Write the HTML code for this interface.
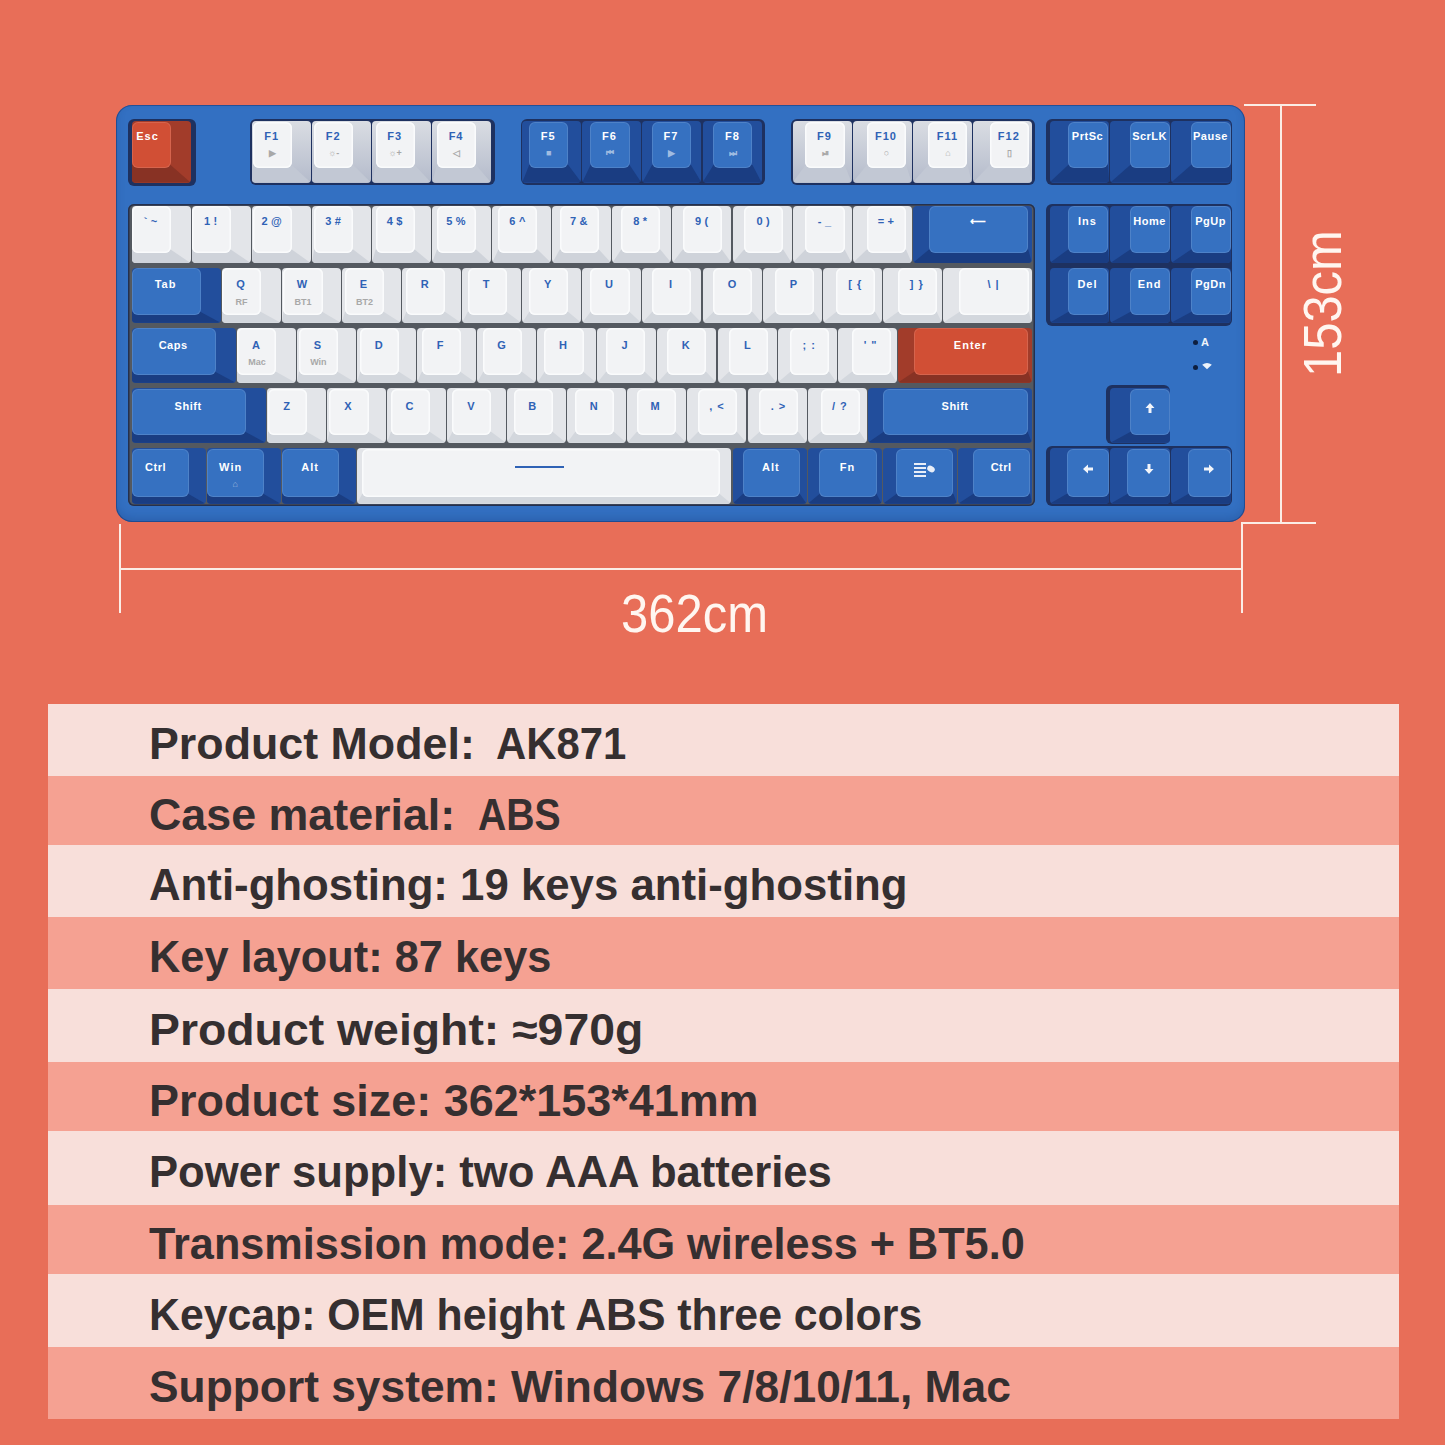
<!DOCTYPE html>
<html><head><meta charset="utf-8">
<style>
html,body{margin:0;padding:0}
body{width:1445px;height:1445px;background:#E86E58;position:relative;overflow:hidden;font-family:"Liberation Sans",sans-serif}
div,i,b,span{position:absolute;display:block;font-style:normal}
.case{left:116px;top:104.5px;width:1129px;height:417px;background:#3370C2;border-radius:16px;box-shadow:inset 0 0 0 1px rgba(20,50,110,.5),inset 0 -5px 8px rgba(20,50,110,.22)}
.well{background:#1E3160;border-radius:6px}
.k .ar{position:absolute}
.k{border-radius:4px;overflow:hidden}
.k .s{left:0;top:0;right:0;bottom:0}
.k .f{border-radius:6px;box-shadow:inset 0 0 0 1px rgba(255,255,255,.12)}
.kw .f{box-shadow:inset 0 0 0 1.5px #FAFBFC}
.k .l{left:0;right:0;top:9px;text-align:center;font-weight:bold;font-size:11px;line-height:13px;white-space:nowrap;letter-spacing:1px;text-indent:1px;right:auto;width:100%}
.k .u{left:0;right:0;top:29px;text-align:center;font-weight:bold;font-size:9px;line-height:10px;color:#A8A8A8}
.k .uw{color:rgba(255,255,255,.55)}
.k .sp{left:153px;top:17px;width:49px;height:2.5px;background:#2F62B5}
.k .mn{left:18px;width:22px;height:14px}
.k .mn i{position:absolute;left:0;width:12px;height:2px;background:#E8EEF8}
.k .mn i:nth-child(1){top:0}.k .mn i:nth-child(2){top:4px}.k .mn i:nth-child(3){top:8px}.k .mn i:nth-child(4){top:12px}
.k .mn i.o{left:13px;top:3px;width:8px;height:6px;border-radius:50%;transform:rotate(30deg)}
.led{width:5px;height:5px;border-radius:50%;background:#0E1E3E}
.ledt{color:#F0F4FA;font-weight:bold;font-size:11px;line-height:11px}
.tr{left:48px;width:1351px}
.tr span{font-weight:bold;font-size:44.5px;line-height:60px;color:#352F30;white-space:nowrap;transform-origin:0 0}
.dl{background:#FBEDE6}
.dim{color:#FFF6F0;font-size:53.5px;line-height:53.5px;white-space:nowrap}
</style></head><body>
<div class="case"></div>
<div class="well" style="left:128px;top:119px;width:68px;height:67px"></div>
<div class="well" style="left:250px;top:119px;width:245px;height:66px"></div>
<div class="well" style="left:521px;top:119px;width:244px;height:66px"></div>
<div class="well" style="left:791px;top:119px;width:244px;height:66px"></div>
<div class="well" style="left:1046px;top:119px;width:186px;height:66px"></div>
<div class="well" style="left:128px;top:204px;width:907px;height:302px;background:#545960;box-shadow:inset 0 0 0 1.5px #24304E"></div>
<div class="well" style="left:1046px;top:204px;width:186px;height:122px"></div>
<div class="well" style="left:1106px;top:385px;width:64px;height:59px"></div>
<div class="well" style="left:1046px;top:446px;width:186px;height:60px"></div>
<div class="k ko" style="left:131.5px;top:121px;width:59.1px;height:61.5px;background:#A23C2A"><i class="s" style="background:#883224;clip-path:polygon(0px 44px,39.1px 44px,59.1px 61.5px,0 61.5px)"></i><i class="f" style="left:0px;top:0.5px;width:39.1px;height:46.5px;background:#D14F35;color:#FFFFFF"><b class="l" style="top:8px;left:-4px">Esc</b></i></div>
<div class="k kw" style="left:251.7px;top:121px;width:59.1px;height:61.5px;background:linear-gradient(#DADDE3,#B4BBCB)"><i class="s" style="background:#C2C8D4;clip-path:polygon(1px 44px,40.1px 44px,59.1px 61.5px,0 61.5px)"></i><i class="f" style="left:1px;top:0.5px;width:39.1px;height:46.5px;background:#F2F3F5;color:#2F62B5"><b class="l" style="top:8px;left:-1px">F1</b><b class="u" style="top:26px">▶</b></i></div>
<div class="k kw" style="left:311.8px;top:121px;width:59.1px;height:61.5px;background:linear-gradient(#DADDE3,#B4BBCB)"><i class="s" style="background:#C2C8D4;clip-path:polygon(2.3px 44px,41.4px 44px,59.1px 61.5px,0 61.5px)"></i><i class="f" style="left:2.3px;top:0.5px;width:39.1px;height:46.5px;background:#F2F3F5;color:#2F62B5"><b class="l" style="top:8px;left:-1px">F2</b><b class="u" style="top:26px">☼-</b></i></div>
<div class="k kw" style="left:371.9px;top:121px;width:59.1px;height:61.5px;background:linear-gradient(#DADDE3,#B4BBCB)"><i class="s" style="background:#C2C8D4;clip-path:polygon(3.7px 44px,42.8px 44px,59.1px 61.5px,0 61.5px)"></i><i class="f" style="left:3.7px;top:0.5px;width:39.1px;height:46.5px;background:#F2F3F5;color:#2F62B5"><b class="l" style="top:8px;left:-1px">F3</b><b class="u" style="top:26px">☼+</b></i></div>
<div class="k kw" style="left:432px;top:121px;width:59.1px;height:61.5px;background:linear-gradient(#DADDE3,#B4BBCB)"><i class="s" style="background:#C2C8D4;clip-path:polygon(5px 44px,44.1px 44px,59.1px 61.5px,0 61.5px)"></i><i class="f" style="left:5px;top:0.5px;width:39.1px;height:46.5px;background:#F2F3F5;color:#2F62B5"><b class="l" style="top:8px;left:-1px">F4</b><b class="u" style="top:26px">◁</b></i></div>
<div class="k kb" style="left:522.2px;top:121px;width:59.1px;height:61.5px;background:#224E9C"><i class="s" style="background:#1A3D82;clip-path:polygon(7px 44px,46.1px 44px,59.1px 61.5px,0 61.5px)"></i><i class="f" style="left:7px;top:0.5px;width:39.1px;height:46.5px;background:#3671C1;color:#FFFFFF"><b class="l" style="top:8px;left:-1px">F5</b><b class="u uw" style="top:26px">■</b></i></div>
<div class="k kb" style="left:582.2px;top:121px;width:59.1px;height:61.5px;background:#224E9C"><i class="s" style="background:#1A3D82;clip-path:polygon(8.3px 44px,47.4px 44px,59.1px 61.5px,0 61.5px)"></i><i class="f" style="left:8.3px;top:0.5px;width:39.1px;height:46.5px;background:#3671C1;color:#FFFFFF"><b class="l" style="top:8px;left:-1px">F6</b><b class="u uw" style="top:26px">⏮</b></i></div>
<div class="k kb" style="left:642.4px;top:121px;width:59.1px;height:61.5px;background:#224E9C"><i class="s" style="background:#1A3D82;clip-path:polygon(9.6px 44px,48.7px 44px,59.1px 61.5px,0 61.5px)"></i><i class="f" style="left:9.6px;top:0.5px;width:39.1px;height:46.5px;background:#3671C1;color:#FFFFFF"><b class="l" style="top:8px;left:-1px">F7</b><b class="u uw" style="top:26px">▶</b></i></div>
<div class="k kb" style="left:702.5px;top:121px;width:59.1px;height:61.5px;background:#224E9C"><i class="s" style="background:#1A3D82;clip-path:polygon(10.9px 44px,50px 44px,59.1px 61.5px,0 61.5px)"></i><i class="f" style="left:10.9px;top:0.5px;width:39.1px;height:46.5px;background:#3671C1;color:#FFFFFF"><b class="l" style="top:8px;left:-1px">F8</b><b class="u uw" style="top:26px">⏭</b></i></div>
<div class="k kw" style="left:792.6px;top:121px;width:59.1px;height:61.5px;background:linear-gradient(#DADDE3,#B4BBCB)"><i class="s" style="background:#C2C8D4;clip-path:polygon(12.9px 44px,52px 44px,59.1px 61.5px,0 61.5px)"></i><i class="f" style="left:12.9px;top:0.5px;width:39.1px;height:46.5px;background:#F2F3F5;color:#2F62B5"><b class="l" style="top:8px;left:-1px">F9</b><b class="u" style="top:26px">⏯</b></i></div>
<div class="k kw" style="left:852.7px;top:121px;width:59.1px;height:61.5px;background:linear-gradient(#DADDE3,#B4BBCB)"><i class="s" style="background:#C2C8D4;clip-path:polygon(14.2px 44px,53.3px 44px,59.1px 61.5px,0 61.5px)"></i><i class="f" style="left:14.2px;top:0.5px;width:39.1px;height:46.5px;background:#F2F3F5;color:#2F62B5"><b class="l" style="top:8px;left:-1px">F10</b><b class="u" style="top:26px">○</b></i></div>
<div class="k kw" style="left:912.8px;top:121px;width:59.1px;height:61.5px;background:linear-gradient(#DADDE3,#B4BBCB)"><i class="s" style="background:#C2C8D4;clip-path:polygon(15.6px 44px,54.7px 44px,59.1px 61.5px,0 61.5px)"></i><i class="f" style="left:15.6px;top:0.5px;width:39.1px;height:46.5px;background:#F2F3F5;color:#2F62B5"><b class="l" style="top:8px;left:-1px">F11</b><b class="u" style="top:26px">⌂</b></i></div>
<div class="k kw" style="left:972.9px;top:121px;width:59.1px;height:61.5px;background:linear-gradient(#DADDE3,#B4BBCB)"><i class="s" style="background:#C2C8D4;clip-path:polygon(16.9px 44px,56px 44px,59.1px 61.5px,0 61.5px)"></i><i class="f" style="left:16.9px;top:0.5px;width:39.1px;height:46.5px;background:#F2F3F5;color:#2F62B5"><b class="l" style="top:8px;left:-1px">F12</b><b class="u" style="top:26px">▯</b></i></div>
<div class="k kb" style="left:1049.5px;top:121px;width:59.8px;height:61.5px;background:#224E9C"><i class="s" style="background:#1A3D82;clip-path:polygon(18.6px 44px,58.4px 44px,59.8px 61.5px,0 61.5px)"></i><i class="f" style="left:18.6px;top:0.5px;width:39.8px;height:46.5px;background:#3671C1;color:#FFFFFF"><b class="l" style="top:8px;left:-1px;letter-spacing:.5px">PrtSc</b></i></div>
<div class="k kb" style="left:1110.3px;top:121px;width:59.8px;height:61.5px;background:#224E9C"><i class="s" style="background:#1A3D82;clip-path:polygon(19.9px 44px,59.7px 44px,59.8px 61.5px,0 61.5px)"></i><i class="f" style="left:19.9px;top:0.5px;width:39.8px;height:46.5px;background:#3671C1;color:#FFFFFF"><b class="l" style="top:8px;left:-1px;letter-spacing:.5px">ScrLK</b></i></div>
<div class="k kb" style="left:1171.1px;top:121px;width:59.8px;height:61.5px;background:#224E9C"><i class="s" style="background:#1A3D82;clip-path:polygon(20px 44px,59.8px 44px,59.8px 61.5px,0 61.5px)"></i><i class="f" style="left:20px;top:0.5px;width:39.8px;height:46.5px;background:#3671C1;color:#FFFFFF"><b class="l" style="top:8px;left:-1px;letter-spacing:.5px">Pause</b></i></div>
<div class="k kw" style="left:131.5px;top:206px;width:59.1px;height:57px;background:#E3E5E9"><i class="s" style="background:#CFD3DA;clip-path:polygon(0px 43.5px,39.1px 43.5px,59.1px 57px,0 57px)"></i><i class="f" style="left:0px;top:0px;width:39.1px;height:46.5px;background:#F2F3F5;color:#2F62B5"><b class="l" style="top:8.5px;left:-1px;letter-spacing:.2px">` ~</b></i></div>
<div class="k kw" style="left:191.6px;top:206px;width:59.1px;height:57px;background:#E3E5E9"><i class="s" style="background:#CFD3DA;clip-path:polygon(0px 43.5px,39.1px 43.5px,59.1px 57px,0 57px)"></i><i class="f" style="left:0px;top:0px;width:39.1px;height:46.5px;background:#F2F3F5;color:#2F62B5"><b class="l" style="top:8.5px;left:-1px;letter-spacing:.2px">1 !</b></i></div>
<div class="k kw" style="left:251.7px;top:206px;width:59.1px;height:57px;background:#E3E5E9"><i class="s" style="background:#CFD3DA;clip-path:polygon(1px 43.5px,40.1px 43.5px,59.1px 57px,0 57px)"></i><i class="f" style="left:1px;top:0px;width:39.1px;height:46.5px;background:#F2F3F5;color:#2F62B5"><b class="l" style="top:8.5px;left:-1px;letter-spacing:.2px">2 @</b></i></div>
<div class="k kw" style="left:311.8px;top:206px;width:59.1px;height:57px;background:#E3E5E9"><i class="s" style="background:#CFD3DA;clip-path:polygon(2.3px 43.5px,41.4px 43.5px,59.1px 57px,0 57px)"></i><i class="f" style="left:2.3px;top:0px;width:39.1px;height:46.5px;background:#F2F3F5;color:#2F62B5"><b class="l" style="top:8.5px;left:-1px;letter-spacing:.2px">3 #</b></i></div>
<div class="k kw" style="left:371.9px;top:206px;width:59.1px;height:57px;background:#E3E5E9"><i class="s" style="background:#CFD3DA;clip-path:polygon(3.7px 43.5px,42.8px 43.5px,59.1px 57px,0 57px)"></i><i class="f" style="left:3.7px;top:0px;width:39.1px;height:46.5px;background:#F2F3F5;color:#2F62B5"><b class="l" style="top:8.5px;left:-1px;letter-spacing:.2px">4 $</b></i></div>
<div class="k kw" style="left:432px;top:206px;width:59.1px;height:57px;background:#E3E5E9"><i class="s" style="background:#CFD3DA;clip-path:polygon(5px 43.5px,44.1px 43.5px,59.1px 57px,0 57px)"></i><i class="f" style="left:5px;top:0px;width:39.1px;height:46.5px;background:#F2F3F5;color:#2F62B5"><b class="l" style="top:8.5px;left:-1px;letter-spacing:.2px">5 %</b></i></div>
<div class="k kw" style="left:492.1px;top:206px;width:59.1px;height:57px;background:#E3E5E9"><i class="s" style="background:#CFD3DA;clip-path:polygon(6.3px 43.5px,45.4px 43.5px,59.1px 57px,0 57px)"></i><i class="f" style="left:6.3px;top:0px;width:39.1px;height:46.5px;background:#F2F3F5;color:#2F62B5"><b class="l" style="top:8.5px;left:-1px;letter-spacing:.2px">6 ^</b></i></div>
<div class="k kw" style="left:552.2px;top:206px;width:59.1px;height:57px;background:#E3E5E9"><i class="s" style="background:#CFD3DA;clip-path:polygon(7.6px 43.5px,46.7px 43.5px,59.1px 57px,0 57px)"></i><i class="f" style="left:7.6px;top:0px;width:39.1px;height:46.5px;background:#F2F3F5;color:#2F62B5"><b class="l" style="top:8.5px;left:-1px;letter-spacing:.2px">7 &</b></i></div>
<div class="k kw" style="left:612.3px;top:206px;width:59.1px;height:57px;background:#E3E5E9"><i class="s" style="background:#CFD3DA;clip-path:polygon(8.9px 43.5px,48px 43.5px,59.1px 57px,0 57px)"></i><i class="f" style="left:8.9px;top:0px;width:39.1px;height:46.5px;background:#F2F3F5;color:#2F62B5"><b class="l" style="top:8.5px;left:-1px;letter-spacing:.2px">8 *</b></i></div>
<div class="k kw" style="left:672.4px;top:206px;width:59.1px;height:57px;background:#E3E5E9"><i class="s" style="background:#CFD3DA;clip-path:polygon(10.3px 43.5px,49.4px 43.5px,59.1px 57px,0 57px)"></i><i class="f" style="left:10.3px;top:0px;width:39.1px;height:46.5px;background:#F2F3F5;color:#2F62B5"><b class="l" style="top:8.5px;left:-1px;letter-spacing:.2px">9 (</b></i></div>
<div class="k kw" style="left:732.5px;top:206px;width:59.1px;height:57px;background:#E3E5E9"><i class="s" style="background:#CFD3DA;clip-path:polygon(11.6px 43.5px,50.7px 43.5px,59.1px 57px,0 57px)"></i><i class="f" style="left:11.6px;top:0px;width:39.1px;height:46.5px;background:#F2F3F5;color:#2F62B5"><b class="l" style="top:8.5px;left:-1px;letter-spacing:.2px">0 )</b></i></div>
<div class="k kw" style="left:792.6px;top:206px;width:59.1px;height:57px;background:#E3E5E9"><i class="s" style="background:#CFD3DA;clip-path:polygon(12.9px 43.5px,52px 43.5px,59.1px 57px,0 57px)"></i><i class="f" style="left:12.9px;top:0px;width:39.1px;height:46.5px;background:#F2F3F5;color:#2F62B5"><b class="l" style="top:8.5px;left:-1px;letter-spacing:.2px">- _</b></i></div>
<div class="k kw" style="left:852.7px;top:206px;width:59.1px;height:57px;background:#E3E5E9"><i class="s" style="background:#CFD3DA;clip-path:polygon(14.2px 43.5px,53.3px 43.5px,59.1px 57px,0 57px)"></i><i class="f" style="left:14.2px;top:0px;width:39.1px;height:46.5px;background:#F2F3F5;color:#2F62B5"><b class="l" style="top:8.5px;left:-1px;letter-spacing:.2px">= +</b></i></div>
<div class="k kb" style="left:912.8px;top:206px;width:119.2px;height:57px;background:#224E9C"><i class="s" style="background:#1A3D82;clip-path:polygon(16.2px 43.5px,115.4px 43.5px,119.2px 57px,0 57px)"></i><i class="f" style="left:16.2px;top:0px;width:99.2px;height:46.5px;background:#3671C1;color:#FFFFFF"><b class="l" style="top:8.5px;left:-1px">⟵</b></i></div>
<div class="k kb" style="left:1049.5px;top:206px;width:59.8px;height:57px;background:#224E9C"><i class="s" style="background:#1A3D82;clip-path:polygon(18.6px 43.5px,58.4px 43.5px,59.8px 57px,0 57px)"></i><i class="f" style="left:18.6px;top:0px;width:39.8px;height:46.5px;background:#3671C1;color:#FFFFFF"><b class="l" style="top:8.5px;left:-1px">Ins</b></i></div>
<div class="k kb" style="left:1110.3px;top:206px;width:59.8px;height:57px;background:#224E9C"><i class="s" style="background:#1A3D82;clip-path:polygon(19.9px 43.5px,59.7px 43.5px,59.8px 57px,0 57px)"></i><i class="f" style="left:19.9px;top:0px;width:39.8px;height:46.5px;background:#3671C1;color:#FFFFFF"><b class="l" style="top:8.5px;left:-1px;letter-spacing:.5px">Home</b></i></div>
<div class="k kb" style="left:1171.1px;top:206px;width:59.8px;height:57px;background:#224E9C"><i class="s" style="background:#1A3D82;clip-path:polygon(20px 43.5px,59.8px 43.5px,59.8px 57px,0 57px)"></i><i class="f" style="left:20px;top:0px;width:39.8px;height:46.5px;background:#3671C1;color:#FFFFFF"><b class="l" style="top:8.5px;left:-1px;letter-spacing:.5px">PgUp</b></i></div>
<div class="k kb" style="left:131.5px;top:267.5px;width:89.2px;height:55.2px;background:#224E9C"><i class="s" style="background:#1A3D82;clip-path:polygon(0px 44.5px,69.2px 44.5px,89.2px 55.2px,0 55.2px)"></i><i class="f" style="left:0px;top:0px;width:69.2px;height:47.5px;background:#3671C1;color:#FFFFFF"><b class="l" style="top:10px;left:-1px">Tab</b></i></div>
<div class="k kw" style="left:221.7px;top:267.5px;width:59.1px;height:55.2px;background:#E3E5E9"><i class="s" style="background:#D3D7DD;clip-path:polygon(0.3px 44.5px,39.4px 44.5px,59.1px 55.2px,0 55.2px)"></i><i class="f" style="left:0.3px;top:0px;width:39.1px;height:47.5px;background:#F2F3F5;color:#2F62B5"><b class="l" style="top:10px;left:-1px">Q</b><b class="u" style="top:29px">RF</b></i></div>
<div class="k kw" style="left:281.8px;top:267.5px;width:59.1px;height:55.2px;background:#E3E5E9"><i class="s" style="background:#D3D7DD;clip-path:polygon(1.7px 44.5px,40.8px 44.5px,59.1px 55.2px,0 55.2px)"></i><i class="f" style="left:1.7px;top:0px;width:39.1px;height:47.5px;background:#F2F3F5;color:#2F62B5"><b class="l" style="top:10px;left:-1px">W</b><b class="u" style="top:29px">BT1</b></i></div>
<div class="k kw" style="left:341.9px;top:267.5px;width:59.1px;height:55.2px;background:#E3E5E9"><i class="s" style="background:#D3D7DD;clip-path:polygon(3px 44.5px,42.1px 44.5px,59.1px 55.2px,0 55.2px)"></i><i class="f" style="left:3px;top:0px;width:39.1px;height:47.5px;background:#F2F3F5;color:#2F62B5"><b class="l" style="top:10px;left:-1px">E</b><b class="u" style="top:29px">BT2</b></i></div>
<div class="k kw" style="left:401.9px;top:267.5px;width:59.1px;height:55.2px;background:#E3E5E9"><i class="s" style="background:#D3D7DD;clip-path:polygon(4.3px 44.5px,43.4px 44.5px,59.1px 55.2px,0 55.2px)"></i><i class="f" style="left:4.3px;top:0px;width:39.1px;height:47.5px;background:#F2F3F5;color:#2F62B5"><b class="l" style="top:10px;left:-1px">R</b></i></div>
<div class="k kw" style="left:462.1px;top:267.5px;width:59.1px;height:55.2px;background:#E3E5E9"><i class="s" style="background:#D3D7DD;clip-path:polygon(5.6px 44.5px,44.7px 44.5px,59.1px 55.2px,0 55.2px)"></i><i class="f" style="left:5.6px;top:0px;width:39.1px;height:47.5px;background:#F2F3F5;color:#2F62B5"><b class="l" style="top:10px;left:-1px">T</b></i></div>
<div class="k kw" style="left:522.2px;top:267.5px;width:59.1px;height:55.2px;background:#E3E5E9"><i class="s" style="background:#D3D7DD;clip-path:polygon(7px 44.5px,46.1px 44.5px,59.1px 55.2px,0 55.2px)"></i><i class="f" style="left:7px;top:0px;width:39.1px;height:47.5px;background:#F2F3F5;color:#2F62B5"><b class="l" style="top:10px;left:-1px">Y</b></i></div>
<div class="k kw" style="left:582.2px;top:267.5px;width:59.1px;height:55.2px;background:#E3E5E9"><i class="s" style="background:#D3D7DD;clip-path:polygon(8.3px 44.5px,47.4px 44.5px,59.1px 55.2px,0 55.2px)"></i><i class="f" style="left:8.3px;top:0px;width:39.1px;height:47.5px;background:#F2F3F5;color:#2F62B5"><b class="l" style="top:10px;left:-1px">U</b></i></div>
<div class="k kw" style="left:642.4px;top:267.5px;width:59.1px;height:55.2px;background:#E3E5E9"><i class="s" style="background:#D3D7DD;clip-path:polygon(9.6px 44.5px,48.7px 44.5px,59.1px 55.2px,0 55.2px)"></i><i class="f" style="left:9.6px;top:0px;width:39.1px;height:47.5px;background:#F2F3F5;color:#2F62B5"><b class="l" style="top:10px;left:-1px">I</b></i></div>
<div class="k kw" style="left:702.5px;top:267.5px;width:59.1px;height:55.2px;background:#E3E5E9"><i class="s" style="background:#D3D7DD;clip-path:polygon(10.9px 44.5px,50px 44.5px,59.1px 55.2px,0 55.2px)"></i><i class="f" style="left:10.9px;top:0px;width:39.1px;height:47.5px;background:#F2F3F5;color:#2F62B5"><b class="l" style="top:10px;left:-1px">O</b></i></div>
<div class="k kw" style="left:762.6px;top:267.5px;width:59.1px;height:55.2px;background:#E3E5E9"><i class="s" style="background:#D3D7DD;clip-path:polygon(12.2px 44.5px,51.3px 44.5px,59.1px 55.2px,0 55.2px)"></i><i class="f" style="left:12.2px;top:0px;width:39.1px;height:47.5px;background:#F2F3F5;color:#2F62B5"><b class="l" style="top:10px;left:-1px">P</b></i></div>
<div class="k kw" style="left:822.6px;top:267.5px;width:59.1px;height:55.2px;background:#E3E5E9"><i class="s" style="background:#D3D7DD;clip-path:polygon(13.6px 44.5px,52.7px 44.5px,59.1px 55.2px,0 55.2px)"></i><i class="f" style="left:13.6px;top:0px;width:39.1px;height:47.5px;background:#F2F3F5;color:#2F62B5"><b class="l" style="top:10px;left:-1px">[ {</b></i></div>
<div class="k kw" style="left:882.8px;top:267.5px;width:59.1px;height:55.2px;background:#E3E5E9"><i class="s" style="background:#D3D7DD;clip-path:polygon(14.9px 44.5px,54px 44.5px,59.1px 55.2px,0 55.2px)"></i><i class="f" style="left:14.9px;top:0px;width:39.1px;height:47.5px;background:#F2F3F5;color:#2F62B5"><b class="l" style="top:10px;left:-1px">] }</b></i></div>
<div class="k kw" style="left:942.9px;top:267.5px;width:89.2px;height:55.2px;background:#E3E5E9"><i class="s" style="background:#D3D7DD;clip-path:polygon(16.5px 44.5px,85.7px 44.5px,89.2px 55.2px,0 55.2px)"></i><i class="f" style="left:16.5px;top:0px;width:69.2px;height:47.5px;background:#F2F3F5;color:#2F62B5"><b class="l" style="top:10px;left:-1px">\ |</b></i></div>
<div class="k kb" style="left:1049.5px;top:267.5px;width:59.8px;height:55.2px;background:#224E9C"><i class="s" style="background:#1A3D82;clip-path:polygon(18.6px 44.5px,58.4px 44.5px,59.8px 55.2px,0 55.2px)"></i><i class="f" style="left:18.6px;top:0px;width:39.8px;height:47.5px;background:#3671C1;color:#FFFFFF"><b class="l" style="top:10px;left:-1px">Del</b></i></div>
<div class="k kb" style="left:1110.3px;top:267.5px;width:59.8px;height:55.2px;background:#224E9C"><i class="s" style="background:#1A3D82;clip-path:polygon(19.9px 44.5px,59.7px 44.5px,59.8px 55.2px,0 55.2px)"></i><i class="f" style="left:19.9px;top:0px;width:39.8px;height:47.5px;background:#3671C1;color:#FFFFFF"><b class="l" style="top:10px;left:-1px">End</b></i></div>
<div class="k kb" style="left:1171.1px;top:267.5px;width:59.8px;height:55.2px;background:#224E9C"><i class="s" style="background:#1A3D82;clip-path:polygon(20px 44.5px,59.8px 44.5px,59.8px 55.2px,0 55.2px)"></i><i class="f" style="left:20px;top:0px;width:39.8px;height:47.5px;background:#3671C1;color:#FFFFFF"><b class="l" style="top:10px;left:-1px;letter-spacing:.5px">PgDn</b></i></div>
<div class="k kb" style="left:131.5px;top:327.5px;width:104.2px;height:55.2px;background:#224E9C"><i class="s" style="background:#1A3D82;clip-path:polygon(0px 44.5px,84.2px 44.5px,104.2px 55.2px,0 55.2px)"></i><i class="f" style="left:0px;top:0.5px;width:84.2px;height:47px;background:#3671C1;color:#FFFFFF"><b class="l" style="top:10.5px;left:-1px;letter-spacing:.5px">Caps</b></i></div>
<div class="k kw" style="left:236.7px;top:327.5px;width:59.1px;height:55.2px;background:#E3E5E9"><i class="s" style="background:#D3D7DD;clip-path:polygon(0.7px 44.5px,39.8px 44.5px,59.1px 55.2px,0 55.2px)"></i><i class="f" style="left:0.7px;top:0.5px;width:39.1px;height:47px;background:#F2F3F5;color:#2F62B5"><b class="l" style="top:10.5px;left:-1px">A</b><b class="u" style="top:29px">Mac</b></i></div>
<div class="k kw" style="left:296.8px;top:327.5px;width:59.1px;height:55.2px;background:#E3E5E9"><i class="s" style="background:#D3D7DD;clip-path:polygon(2px 44.5px,41.1px 44.5px,59.1px 55.2px,0 55.2px)"></i><i class="f" style="left:2px;top:0.5px;width:39.1px;height:47px;background:#F2F3F5;color:#2F62B5"><b class="l" style="top:10.5px;left:-1px">S</b><b class="u" style="top:29px">Win</b></i></div>
<div class="k kw" style="left:356.9px;top:327.5px;width:59.1px;height:55.2px;background:#E3E5E9"><i class="s" style="background:#D3D7DD;clip-path:polygon(3.3px 44.5px,42.4px 44.5px,59.1px 55.2px,0 55.2px)"></i><i class="f" style="left:3.3px;top:0.5px;width:39.1px;height:47px;background:#F2F3F5;color:#2F62B5"><b class="l" style="top:10.5px;left:-1px">D</b></i></div>
<div class="k kw" style="left:417px;top:327.5px;width:59.1px;height:55.2px;background:#E3E5E9"><i class="s" style="background:#D3D7DD;clip-path:polygon(4.6px 44.5px,43.7px 44.5px,59.1px 55.2px,0 55.2px)"></i><i class="f" style="left:4.6px;top:0.5px;width:39.1px;height:47px;background:#F2F3F5;color:#2F62B5"><b class="l" style="top:10.5px;left:-1px">F</b></i></div>
<div class="k kw" style="left:477.1px;top:327.5px;width:59.1px;height:55.2px;background:#E3E5E9"><i class="s" style="background:#D3D7DD;clip-path:polygon(6px 44.5px,45.1px 44.5px,59.1px 55.2px,0 55.2px)"></i><i class="f" style="left:6px;top:0.5px;width:39.1px;height:47px;background:#F2F3F5;color:#2F62B5"><b class="l" style="top:10.5px;left:-1px">G</b></i></div>
<div class="k kw" style="left:537.2px;top:327.5px;width:59.1px;height:55.2px;background:#E3E5E9"><i class="s" style="background:#D3D7DD;clip-path:polygon(7.3px 44.5px,46.4px 44.5px,59.1px 55.2px,0 55.2px)"></i><i class="f" style="left:7.3px;top:0.5px;width:39.1px;height:47px;background:#F2F3F5;color:#2F62B5"><b class="l" style="top:10.5px;left:-1px">H</b></i></div>
<div class="k kw" style="left:597.3px;top:327.5px;width:59.1px;height:55.2px;background:#E3E5E9"><i class="s" style="background:#D3D7DD;clip-path:polygon(8.6px 44.5px,47.7px 44.5px,59.1px 55.2px,0 55.2px)"></i><i class="f" style="left:8.6px;top:0.5px;width:39.1px;height:47px;background:#F2F3F5;color:#2F62B5"><b class="l" style="top:10.5px;left:-1px">J</b></i></div>
<div class="k kw" style="left:657.4px;top:327.5px;width:59.1px;height:55.2px;background:#E3E5E9"><i class="s" style="background:#D3D7DD;clip-path:polygon(9.9px 44.5px,49px 44.5px,59.1px 55.2px,0 55.2px)"></i><i class="f" style="left:9.9px;top:0.5px;width:39.1px;height:47px;background:#F2F3F5;color:#2F62B5"><b class="l" style="top:10.5px;left:-1px">K</b></i></div>
<div class="k kw" style="left:717.5px;top:327.5px;width:59.1px;height:55.2px;background:#E3E5E9"><i class="s" style="background:#D3D7DD;clip-path:polygon(11.3px 44.5px,50.4px 44.5px,59.1px 55.2px,0 55.2px)"></i><i class="f" style="left:11.3px;top:0.5px;width:39.1px;height:47px;background:#F2F3F5;color:#2F62B5"><b class="l" style="top:10.5px;left:-1px">L</b></i></div>
<div class="k kw" style="left:777.6px;top:327.5px;width:59.1px;height:55.2px;background:#E3E5E9"><i class="s" style="background:#D3D7DD;clip-path:polygon(12.6px 44.5px,51.7px 44.5px,59.1px 55.2px,0 55.2px)"></i><i class="f" style="left:12.6px;top:0.5px;width:39.1px;height:47px;background:#F2F3F5;color:#2F62B5"><b class="l" style="top:10.5px;left:-1px">; :</b></i></div>
<div class="k kw" style="left:837.7px;top:327.5px;width:59.1px;height:55.2px;background:#E3E5E9"><i class="s" style="background:#D3D7DD;clip-path:polygon(13.9px 44.5px,53px 44.5px,59.1px 55.2px,0 55.2px)"></i><i class="f" style="left:13.9px;top:0.5px;width:39.1px;height:47px;background:#F2F3F5;color:#2F62B5"><b class="l" style="top:10.5px;left:-1px">' "</b></i></div>
<div class="k ko" style="left:897.8px;top:327.5px;width:134.2px;height:55.2px;background:#A23C2A"><i class="s" style="background:#883224;clip-path:polygon(16px 44.5px,130.3px 44.5px,134.2px 55.2px,0 55.2px)"></i><i class="f" style="left:16px;top:0.5px;width:114.2px;height:47px;background:#D14F35;color:#FFFFFF"><b class="l" style="top:10.5px;left:-1px">Enter</b></i></div>
<div class="k kb" style="left:131.5px;top:388px;width:134.2px;height:54.8px;background:#224E9C"><i class="s" style="background:#1A3D82;clip-path:polygon(0px 44px,114.2px 44px,134.2px 54.8px,0 54.8px)"></i><i class="f" style="left:0px;top:1px;width:114.2px;height:46px;background:#3671C1;color:#FFFFFF"><b class="l" style="top:10.5px;left:-1px;letter-spacing:.5px">Shift</b></i></div>
<div class="k kw" style="left:266.7px;top:388px;width:59.1px;height:54.8px;background:#E3E5E9"><i class="s" style="background:#D3D7DD;clip-path:polygon(1.3px 44px,40.4px 44px,59.1px 54.8px,0 54.8px)"></i><i class="f" style="left:1.3px;top:1px;width:39.1px;height:46px;background:#F2F3F5;color:#2F62B5"><b class="l" style="top:10.5px;left:-1px">Z</b></i></div>
<div class="k kw" style="left:326.8px;top:388px;width:59.1px;height:54.8px;background:#E3E5E9"><i class="s" style="background:#D3D7DD;clip-path:polygon(2.7px 44px,41.8px 44px,59.1px 54.8px,0 54.8px)"></i><i class="f" style="left:2.7px;top:1px;width:39.1px;height:46px;background:#F2F3F5;color:#2F62B5"><b class="l" style="top:10.5px;left:-1px">X</b></i></div>
<div class="k kw" style="left:386.9px;top:388px;width:59.1px;height:54.8px;background:#E3E5E9"><i class="s" style="background:#D3D7DD;clip-path:polygon(4px 44px,43.1px 44px,59.1px 54.8px,0 54.8px)"></i><i class="f" style="left:4px;top:1px;width:39.1px;height:46px;background:#F2F3F5;color:#2F62B5"><b class="l" style="top:10.5px;left:-1px">C</b></i></div>
<div class="k kw" style="left:447px;top:388px;width:59.1px;height:54.8px;background:#E3E5E9"><i class="s" style="background:#D3D7DD;clip-path:polygon(5.3px 44px,44.4px 44px,59.1px 54.8px,0 54.8px)"></i><i class="f" style="left:5.3px;top:1px;width:39.1px;height:46px;background:#F2F3F5;color:#2F62B5"><b class="l" style="top:10.5px;left:-1px">V</b></i></div>
<div class="k kw" style="left:507.1px;top:388px;width:59.1px;height:54.8px;background:#E3E5E9"><i class="s" style="background:#D3D7DD;clip-path:polygon(6.6px 44px,45.7px 44px,59.1px 54.8px,0 54.8px)"></i><i class="f" style="left:6.6px;top:1px;width:39.1px;height:46px;background:#F2F3F5;color:#2F62B5"><b class="l" style="top:10.5px;left:-1px">B</b></i></div>
<div class="k kw" style="left:567.2px;top:388px;width:59.1px;height:54.8px;background:#E3E5E9"><i class="s" style="background:#D3D7DD;clip-path:polygon(7.9px 44px,47px 44px,59.1px 54.8px,0 54.8px)"></i><i class="f" style="left:7.9px;top:1px;width:39.1px;height:46px;background:#F2F3F5;color:#2F62B5"><b class="l" style="top:10.5px;left:-1px">N</b></i></div>
<div class="k kw" style="left:627.3px;top:388px;width:59.1px;height:54.8px;background:#E3E5E9"><i class="s" style="background:#D3D7DD;clip-path:polygon(9.3px 44px,48.4px 44px,59.1px 54.8px,0 54.8px)"></i><i class="f" style="left:9.3px;top:1px;width:39.1px;height:46px;background:#F2F3F5;color:#2F62B5"><b class="l" style="top:10.5px;left:-1px">M</b></i></div>
<div class="k kw" style="left:687.4px;top:388px;width:59.1px;height:54.8px;background:#E3E5E9"><i class="s" style="background:#D3D7DD;clip-path:polygon(10.6px 44px,49.7px 44px,59.1px 54.8px,0 54.8px)"></i><i class="f" style="left:10.6px;top:1px;width:39.1px;height:46px;background:#F2F3F5;color:#2F62B5"><b class="l" style="top:10.5px;left:-1px">, &lt;</b></i></div>
<div class="k kw" style="left:747.5px;top:388px;width:59.1px;height:54.8px;background:#E3E5E9"><i class="s" style="background:#D3D7DD;clip-path:polygon(11.9px 44px,51px 44px,59.1px 54.8px,0 54.8px)"></i><i class="f" style="left:11.9px;top:1px;width:39.1px;height:46px;background:#F2F3F5;color:#2F62B5"><b class="l" style="top:10.5px;left:-1px">. &gt;</b></i></div>
<div class="k kw" style="left:807.6px;top:388px;width:59.1px;height:54.8px;background:#E3E5E9"><i class="s" style="background:#D3D7DD;clip-path:polygon(13.2px 44px,52.3px 44px,59.1px 54.8px,0 54.8px)"></i><i class="f" style="left:13.2px;top:1px;width:39.1px;height:46px;background:#F2F3F5;color:#2F62B5"><b class="l" style="top:10.5px;left:-1px">/ ?</b></i></div>
<div class="k kb" style="left:867.7px;top:388px;width:164.3px;height:54.8px;background:#224E9C"><i class="s" style="background:#1A3D82;clip-path:polygon(15.7px 44px,160px 44px,164.3px 54.8px,0 54.8px)"></i><i class="f" style="left:15.7px;top:1px;width:144.3px;height:46px;background:#3671C1;color:#FFFFFF"><b class="l" style="top:10.5px;left:-1px;letter-spacing:.5px">Shift</b></i></div>
<div class="k kb" style="left:1110.3px;top:388px;width:59.8px;height:54.8px;background:#224E9C"><i class="s" style="background:#1A3D82;clip-path:polygon(19.9px 44px,59.7px 44px,59.8px 54.8px,0 54.8px)"></i><i class="f" style="left:19.9px;top:1px;width:39.8px;height:46px;background:#3671C1;color:#FFFFFF"><svg class="ar" style="top:12.5px;left:13.9px" width="12" height="12" viewBox="0 0 12 12"><path d="M6 1 L10.5 6 L7.5 6 L7.5 11 L4.5 11 L4.5 6 L1.5 6 Z" fill="#F2F5FA"/></svg></i></div>
<div class="k kb" style="left:131.5px;top:447.6px;width:74.1px;height:56.2px;background:#224E9C"><i class="s" style="background:#1A3D82;clip-path:polygon(0px 46.4px,57.1px 46.4px,74.1px 56.2px,0 56.2px)"></i><i class="f" style="left:0px;top:1.4px;width:57.1px;height:48px;background:#3671C1;color:#FFFFFF"><b class="l" style="top:12px;left:-5px;letter-spacing:.5px">Ctrl</b></i></div>
<div class="k kb" style="left:206.6px;top:447.6px;width:74.1px;height:56.2px;background:#224E9C"><i class="s" style="background:#1A3D82;clip-path:polygon(0px 46.4px,57.1px 46.4px,74.1px 56.2px,0 56.2px)"></i><i class="f" style="left:0px;top:1.4px;width:57.1px;height:48px;background:#3671C1;color:#FFFFFF"><b class="l" style="top:12px;left:-5px">Win</b><b class="u uw" style="top:30px">⌂</b></i></div>
<div class="k kb" style="left:281.8px;top:447.6px;width:74.1px;height:56.2px;background:#224E9C"><i class="s" style="background:#1A3D82;clip-path:polygon(0.3px 46.4px,57.5px 46.4px,74.1px 56.2px,0 56.2px)"></i><i class="f" style="left:0.3px;top:1.4px;width:57.1px;height:48px;background:#3671C1;color:#FFFFFF"><b class="l" style="top:12px;left:-1px">Alt</b></i></div>
<div class="k kw" style="left:356.9px;top:447.6px;width:374.6px;height:56.2px;background:#E3E5E9"><i class="s" style="background:#D3D7DD;clip-path:polygon(5.3px 46.4px,362.9px 46.4px,374.6px 56.2px,0 56.2px)"></i><i class="f" style="left:5.3px;top:1.4px;width:357.6px;height:48px;background:#F2F3F5;color:#2F62B5"><b class="sp"></b></i></div>
<div class="k kb" style="left:732.5px;top:447.6px;width:74.1px;height:56.2px;background:#224E9C"><i class="s" style="background:#1A3D82;clip-path:polygon(10.3px 46.4px,67.4px 46.4px,74.1px 56.2px,0 56.2px)"></i><i class="f" style="left:10.3px;top:1.4px;width:57.1px;height:48px;background:#3671C1;color:#FFFFFF"><b class="l" style="top:12px;left:-1px">Alt</b></i></div>
<div class="k kb" style="left:807.6px;top:447.6px;width:74.1px;height:56.2px;background:#224E9C"><i class="s" style="background:#1A3D82;clip-path:polygon(11.9px 46.4px,69px 46.4px,74.1px 56.2px,0 56.2px)"></i><i class="f" style="left:11.9px;top:1.4px;width:57.1px;height:48px;background:#3671C1;color:#FFFFFF"><b class="l" style="top:12px;left:-1px">Fn</b></i></div>
<div class="k kb" style="left:882.8px;top:447.6px;width:74.1px;height:56.2px;background:#224E9C"><i class="s" style="background:#1A3D82;clip-path:polygon(13.6px 46.4px,70.7px 46.4px,74.1px 56.2px,0 56.2px)"></i><i class="f" style="left:13.6px;top:1.4px;width:57.1px;height:48px;background:#3671C1;color:#FFFFFF"><b class="mn" style="top:14px"><i></i><i></i><i></i><i></i><i class="o"></i></b></i></div>
<div class="k kb" style="left:957.9px;top:447.6px;width:74.1px;height:56.2px;background:#224E9C"><i class="s" style="background:#1A3D82;clip-path:polygon(15.2px 46.4px,72.3px 46.4px,74.1px 56.2px,0 56.2px)"></i><i class="f" style="left:15.2px;top:1.4px;width:57.1px;height:48px;background:#3671C1;color:#FFFFFF"><b class="l" style="top:12px;left:-1px;letter-spacing:.5px">Ctrl</b></i></div>
<div class="k kb" style="left:1049.5px;top:447.6px;width:59.8px;height:56.2px;background:#224E9C"><i class="s" style="background:#1A3D82;clip-path:polygon(17px 46.4px,59.8px 46.4px,59.8px 56.2px,0 56.2px)"></i><i class="f" style="left:17px;top:1.4px;width:42.8px;height:48px;background:#3671C1;color:#FFFFFF"><svg class="ar" style="top:14px;left:15.4px" width="12" height="12" viewBox="0 0 12 12"><path d="M1 6 L6 1.5 L6 4.5 L11 4.5 L11 7.5 L6 7.5 L6 10.5 Z" fill="#F2F5FA"/></svg></i></div>
<div class="k kb" style="left:1110.3px;top:447.6px;width:59.8px;height:56.2px;background:#224E9C"><i class="s" style="background:#1A3D82;clip-path:polygon(17px 46.4px,59.8px 46.4px,59.8px 56.2px,0 56.2px)"></i><i class="f" style="left:17px;top:1.4px;width:42.8px;height:48px;background:#3671C1;color:#FFFFFF"><svg class="ar" style="top:14px;left:15.4px" width="12" height="12" viewBox="0 0 12 12"><path d="M6 11 L10.5 6 L7.5 6 L7.5 1 L4.5 1 L4.5 6 L1.5 6 Z" fill="#F2F5FA"/></svg></i></div>
<div class="k kb" style="left:1171.1px;top:447.6px;width:59.8px;height:56.2px;background:#224E9C"><i class="s" style="background:#1A3D82;clip-path:polygon(17px 46.4px,59.8px 46.4px,59.8px 56.2px,0 56.2px)"></i><i class="f" style="left:17px;top:1.4px;width:42.8px;height:48px;background:#3671C1;color:#FFFFFF"><svg class="ar" style="top:14px;left:15.4px" width="12" height="12" viewBox="0 0 12 12"><path d="M11 6 L6 1.5 L6 4.5 L1 4.5 L1 7.5 L6 7.5 L6 10.5 Z" fill="#F2F5FA"/></svg></i></div>
<div class="dl" style="left:1244px;top:104px;width:72px;height:2px"></div>
<div class="dl" style="left:1280px;top:104px;width:2px;height:419px"></div>
<div class="dl" style="left:1242px;top:522px;width:74px;height:2px"></div>
<div class="dl" style="left:1241px;top:522px;width:2px;height:91px"></div>
<div class="dl" style="left:120px;top:568px;width:1122px;height:2px"></div>
<div class="dl" style="left:119px;top:524px;width:2px;height:89px"></div>
<div class="dim" style="left:621px;top:587px;transform-origin:0 0;transform:scaleX(.915)">362cm</div>
<div class="dim" style="left:1296px;top:376.5px;transform-origin:0 0;transform:rotate(-90deg) scaleX(.914)">153cm</div>
<div class="led" style="left:1193px;top:340px"></div><div class="ledt" style="left:1201px;top:337px">A</div>
<div class="led" style="left:1193px;top:365px"></div>
<svg style="position:absolute;left:1201px;top:362px" width="12" height="8" viewBox="0 0 14 10"><path d="M1 3.5 Q7 -1 13 3.5 L7 9 Z" fill="#EEF3FA"/></svg>
<div class="tr" style="top:704px;height:72px;background:#F8DFDA"><span style="left:100.5px;top:10.4px;transform:scaleX(1.0060)">Product Model:</span><span style="left:448.3px;top:10.4px;transform:scaleX(0.9405)">AK871</span></div>
<div class="tr" style="top:776px;height:69px;background:#F5A192"><span style="left:100.5px;top:8.9px;transform:scaleX(1.0063)">Case material:</span><span style="left:429.5px;top:8.9px;transform:scaleX(0.8803)">ABS</span></div>
<div class="tr" style="top:845px;height:72px;background:#F8DFDA"><span style="left:100.5px;top:10.4px;transform:scaleX(0.9834)">Anti-ghosting: 19 keys anti-ghosting</span></div>
<div class="tr" style="top:917px;height:72px;background:#F5A192"><span style="left:100.5px;top:10.4px;transform:scaleX(0.9740)">Key layout: 87 keys</span></div>
<div class="tr" style="top:989px;height:73px;background:#F8DFDA"><span style="left:100.5px;top:10.9px;transform:scaleX(1.0419)">Product weight: ≈970g</span></div>
<div class="tr" style="top:1062px;height:69px;background:#F5A192"><span style="left:100.5px;top:8.9px;transform:scaleX(1.0100)">Product size: 362*153*41mm</span></div>
<div class="tr" style="top:1131px;height:74px;background:#F8DFDA"><span style="left:100.5px;top:11.4px;transform:scaleX(0.9804)">Power supply: two AAA batteries</span></div>
<div class="tr" style="top:1205px;height:69px;background:#F5A192"><span style="left:100.5px;top:8.9px;transform:scaleX(0.9714)">Transmission mode: 2.4G wireless + BT5.0</span></div>
<div class="tr" style="top:1274px;height:73px;background:#F8DFDA"><span style="left:100.5px;top:10.9px;transform:scaleX(0.9611)">Keycap: OEM height ABS three colors</span></div>
<div class="tr" style="top:1347px;height:72px;background:#F5A192"><span style="left:100.5px;top:10.4px;transform:scaleX(0.9962)">Support system: Windows 7/8/10/11, Mac</span></div>
</body></html>
